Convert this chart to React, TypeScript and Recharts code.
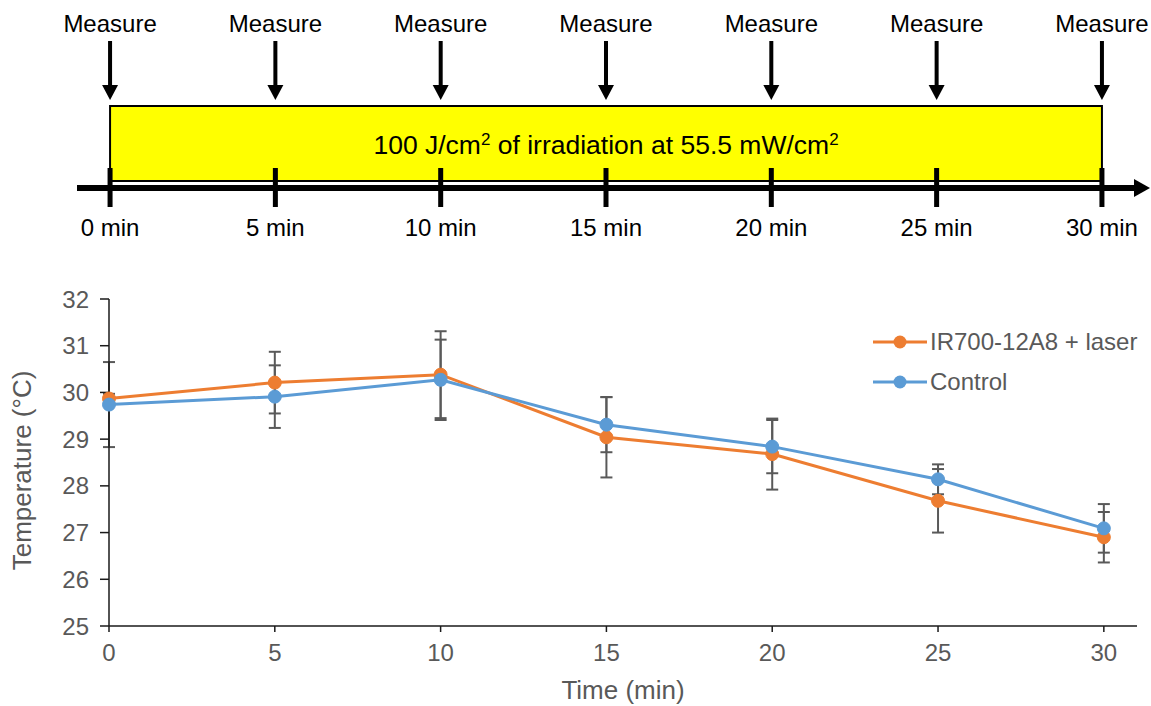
import {
  ComposedChart,
  LineChart,
  Line,
  Scatter,
  XAxis,
  YAxis,
  ErrorBar,
  Legend,
  ReferenceArea,
} from "recharts";

// ---------------------------------------------------------------------------
// Data
// ---------------------------------------------------------------------------
const TIMES = [0, 5, 10, 15, 20, 25, 30];
const LASER_MEAN = [29.87, 30.21, 30.38, 29.04, 28.68, 27.68, 26.9];
const LASER_SD = [0.1, 0.66, 0.93, 0.86, 0.76, 0.68, 0.54];
const CONTROL_MEAN = [29.74, 29.91, 30.27, 29.31, 28.84, 28.14, 27.09];
const CONTROL_SD = [0.91, 0.67, 0.86, 0.59, 0.57, 0.32, 0.52];

const SERIES_NAMES = ["IR700-12A8 + laser", "Control"];

const X_TICKS = [0, 5, 10, 15, 20, 25, 30];
const Y_TICKS = [25, 26, 27, 28, 29, 30, 31, 32];

// schematic: measurement times and irradiation window (min)
const MEASURE_TIMES = [0, 5, 10, 15, 20, 25, 30];
const IRRADIATION_START = 0;
const IRRADIATION_END = 30;

const ORANGE = "#ED7D31";
const BLUE = "#5B9BD5";
const GREY_TEXT = "#595959";
const FONT = "'Liberation Sans', Arial, sans-serif";

const rows = TIMES.map((t, i) => ({
  t,
  laser: LASER_MEAN[i],
  laserErr: LASER_SD[i],
  control: CONTROL_MEAN[i],
  controlErr: CONTROL_SD[i],
}));

const measureRows = MEASURE_TIMES.map((t) => ({ t, level: 1 }));

// ---------------------------------------------------------------------------
// Schematic pieces
// ---------------------------------------------------------------------------
const MeasureArrow = (props: any) => {
  const { cx, cy } = props;
  return (
    <g>
      <text x={cx} y={cy + 32} textAnchor="middle" fontSize={24} fill="#000">
        Measure
      </text>
      <rect x={cx - 2} y={cy + 41} width={4} height={46} fill="#000" />
      <path d={`M${cx - 8},${cy + 85} L${cx + 8},${cy + 85} L${cx},${cy + 100} Z`} fill="#000" />
    </g>
  );
};

const IrradiationBox = (props: any) => {
  const { x, y, width } = props;
  return (
    <g>
      <rect x={x} y={y + 106} width={width} height={75} fill="#FFFF00" stroke="#000" strokeWidth={2} />
      <text x={x + width / 2} y={y + 154} textAnchor="middle" fontSize={26.5} fill="#000">
        100 J/cm
        <tspan dy={-9} fontSize={17}>2</tspan>
        <tspan dy={9}> of irradiation at 55.5 mW/cm</tspan>
        <tspan dy={-9} fontSize={17}>2</tspan>
      </text>
    </g>
  );
};

const TimelineTick = (props: any) => {
  const { x, y, payload } = props;
  return (
    <g>
      <rect x={x - 2.5} y={y - 20} width={5} height={39} fill="#000" />
      <text x={x} y={y + 48} textAnchor="middle" fontSize={24} fill="#000">
        {payload.value} min
      </text>
    </g>
  );
};

// ---------------------------------------------------------------------------
// Legend + axis titles
// ---------------------------------------------------------------------------
const renderLegend = (props: any) => {
  const items = [...(props.payload || [])].sort(
    (a: any, b: any) => SERIES_NAMES.indexOf(a.value) - SERIES_NAMES.indexOf(b.value)
  );
  return (
    <div>
      {items.map((entry: any) => (
        <div key={entry.value} style={{ display: "flex", alignItems: "center", height: 40 }}>
          <svg width={57} height={14}>
            <line x1={0} y1={7} x2={54} y2={7} stroke={entry.color} strokeWidth={3} />
            <circle cx={27} cy={7} r={6.5} fill={entry.color} />
          </svg>
          <span style={{ fontSize: 24, color: GREY_TEXT, fontFamily: FONT }}>{entry.value}</span>
        </div>
      ))}
    </div>
  );
};

const YTitle = (props: any) => {
  const { viewBox } = props;
  const cx = viewBox.x + 31;
  const cy = viewBox.y + viewBox.height / 2 + 8;
  return (
    <text x={cx} y={cy} transform={`rotate(-90 ${cx} ${cy})`} textAnchor="middle" fontSize={26} fill={GREY_TEXT}>
      Temperature (°C)
    </text>
  );
};

const XTitle = (props: any) => {
  const { viewBox } = props;
  return (
    <text x={viewBox.x + viewBox.width / 2} y={viewBox.y + 73} textAnchor="middle" fontSize={26} fill={GREY_TEXT}>
      Time (min)
    </text>
  );
};

export default function App() {
  return (
    <div
      style={{
        position: "absolute",
        left: 0,
        top: 0,
        width: 1151,
        height: 706,
        background: "#fff",
        fontFamily: FONT,
      }}
    >
      {/* schematic timeline */}
      <div style={{ position: "absolute", left: 0, top: 0 }}>
        <ComposedChart
          width={1151}
          height={250}
          data={measureRows}
          margin={{ top: 0, right: 16, bottom: 2, left: 77 }}
        >
          <defs>
            <marker
              id="timeline-arrow"
              markerUnits="userSpaceOnUse"
              markerWidth={16}
              markerHeight={18}
              refX={1}
              refY={9}
              orient="auto"
            >
              <path d="M0,0 L16,9 L0,18 Z" fill="#000" />
            </marker>
          </defs>
          <ReferenceArea
            x1={IRRADIATION_START}
            x2={IRRADIATION_END}
            shape={IrradiationBox}
            ifOverflow="visible"
          />
          <XAxis
            dataKey="t"
            type="number"
            domain={[-1, 31]}
            ticks={MEASURE_TIMES}
            interval={0}
            height={60}
            tickSize={0}
            tickMargin={0}
            tickLine={false}
            axisLine={{ stroke: "#000", strokeWidth: 6, markerEnd: "url(#timeline-arrow)" }}
            tick={<TimelineTick />}
          />
          <YAxis hide domain={[0, 1]} />
          <Scatter dataKey="level" shape={MeasureArrow} isAnimationActive={false} />
        </ComposedChart>
      </div>

      {/* temperature chart */}
      <div style={{ position: "absolute", left: 0, top: 260 }}>
        <LineChart width={1151} height={446} data={rows} margin={{ top: 39, right: 14, bottom: 0, left: 0 }}>
          <XAxis
            dataKey="t"
            type="number"
            domain={[0, 31]}
            ticks={X_TICKS}
            interval={0}
            height={80}
            tickSize={6}
            tickMargin={12}
            tick={{ fill: GREY_TEXT, fontSize: 24 }}
            axisLine={{ stroke: "#1a1a1a", strokeWidth: 1.5 }}
            tickLine={{ stroke: "#1a1a1a", strokeWidth: 1.5 }}
            label={(p: any) => <XTitle {...p} />}
          />
          <YAxis
            type="number"
            domain={[25, 32]}
            ticks={Y_TICKS}
            interval={0}
            width={109}
            tickSize={9}
            tickMargin={11}
            tick={{ fill: GREY_TEXT, fontSize: 24 }}
            axisLine={{ stroke: "#1a1a1a", strokeWidth: 1.5 }}
            tickLine={{ stroke: "#1a1a1a", strokeWidth: 1.5 }}
            label={(p: any) => <YTitle {...p} />}
          />
          <Legend
            layout="vertical"
            align="center"
            verticalAlign="middle"
            content={renderLegend}
            wrapperStyle={{ left: 873, top: 62, width: "auto", height: "auto" }}
          />
          <Line
            dataKey="laser"
            name="IR700-12A8 + laser"
            stroke={ORANGE}
            strokeWidth={3}
            dot={{ r: 6.5, fill: ORANGE, stroke: ORANGE, strokeWidth: 1 }}
            activeDot={false}
            isAnimationActive={false}
          >
            <ErrorBar dataKey="laserErr" direction="y" width={6} stroke="#595959" strokeWidth={2} />
          </Line>
          <Line
            dataKey="control"
            name="Control"
            stroke={BLUE}
            strokeWidth={3}
            dot={{ r: 6.5, fill: BLUE, stroke: BLUE, strokeWidth: 1 }}
            activeDot={false}
            isAnimationActive={false}
          >
            <ErrorBar dataKey="controlErr" direction="y" width={6} stroke="#595959" strokeWidth={2} />
          </Line>
        </LineChart>
      </div>
    </div>
  );
}
